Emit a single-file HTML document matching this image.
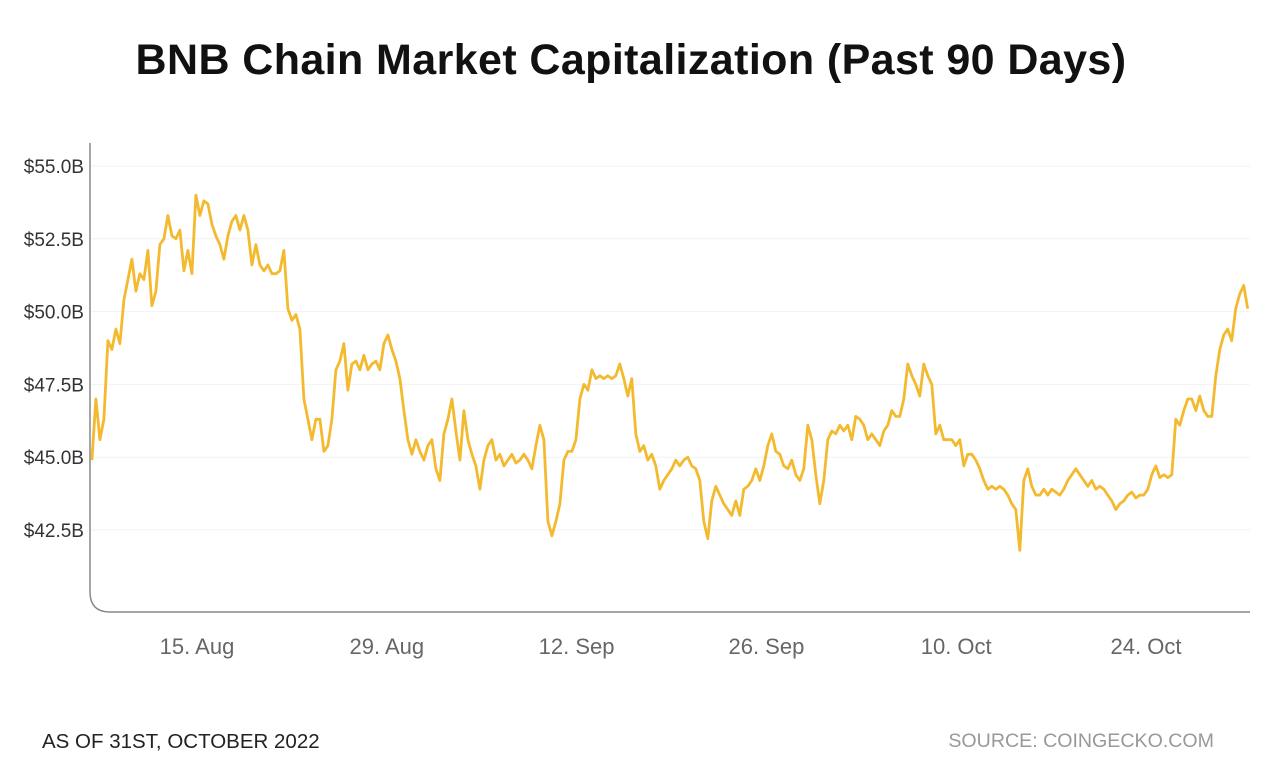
<!DOCTYPE html>
<html><head><meta charset="utf-8">
<style>
html,body{margin:0;padding:0;background:#fff;width:1282px;height:770px;overflow:hidden;font-family:"Liberation Sans",sans-serif;}
#title{position:absolute;left:0;width:1262px;top:36px;text-align:center;font-weight:bold;font-size:43px;color:#111;letter-spacing:0.4px;}
#foot-left{position:absolute;left:42px;top:730px;font-size:20.5px;color:#222;}
#foot-right{position:absolute;right:68px;top:730px;font-size:19.6px;color:#999;}
svg{position:absolute;left:0;top:0;}
</style></head>
<body>
<div id="title">BNB Chain Market Capitalization (Past 90 Days)</div>
<svg id="chart" width="1282" height="770"></svg>
<div id="foot-left">AS OF 31ST, OCTOBER 2022</div>
<div id="foot-right">SOURCE: COINGECKO.COM</div>
<script>
const yTicks = [42.5, 45.0, 47.5, 50.0, 52.5, 55.0];
const xTickDates = ["2022-08-15","2022-08-29","2022-09-12","2022-09-26","2022-10-10","2022-10-24"];
const xTickLabels = ["15. Aug","29. Aug","12. Sep","26. Sep","10. Oct","24. Oct"];
const seriesStart = "2022-08-07T06:00:00Z";
const seriesStepHours = 7.08;
const marketCapB = [44.9,47.0,45.6,46.3,49.0,48.7,49.4,48.9,50.4,51.1,51.8,50.7,51.3,51.1,52.1,50.2,50.7,52.3,52.5,53.3,52.6,52.5,52.8,51.4,52.1,51.3,54.0,53.3,53.8,53.7,53.0,52.6,52.3,51.8,52.6,53.1,53.3,52.8,53.3,52.8,51.6,52.3,51.6,51.4,51.6,51.3,51.3,51.4,52.1,50.1,49.7,49.9,49.4,47.0,46.3,45.6,46.3,46.3,45.2,45.4,46.3,48.0,48.3,48.9,47.3,48.2,48.3,48.0,48.5,48.0,48.2,48.3,48.0,48.9,49.2,48.7,48.3,47.7,46.6,45.6,45.1,45.6,45.2,44.9,45.4,45.6,44.6,44.2,45.8,46.3,47.0,45.9,44.9,46.6,45.6,45.1,44.7,43.9,44.9,45.4,45.6,44.9,45.1,44.7,44.9,45.1,44.8,44.9,45.1,44.9,44.6,45.4,46.1,45.6,42.8,42.3,42.8,43.4,44.9,45.2,45.2,45.6,47.0,47.5,47.3,48.0,47.7,47.8,47.7,47.8,47.7,47.8,48.2,47.7,47.1,47.7,45.8,45.2,45.4,44.9,45.1,44.7,43.9,44.2,44.4,44.6,44.9,44.7,44.9,45.0,44.7,44.6,44.2,42.8,42.2,43.5,44.0,43.7,43.4,43.2,43.0,43.5,43.0,43.9,44.0,44.2,44.6,44.2,44.7,45.4,45.8,45.2,45.1,44.7,44.6,44.9,44.4,44.2,44.6,46.1,45.6,44.4,43.4,44.2,45.6,45.9,45.8,46.1,45.9,46.1,45.6,46.4,46.3,46.1,45.6,45.8,45.6,45.4,45.9,46.1,46.6,46.4,46.4,47.0,48.2,47.8,47.5,47.1,48.2,47.8,47.5,45.8,46.1,45.6,45.6,45.6,45.4,45.6,44.7,45.1,45.1,44.9,44.6,44.2,43.9,44.0,43.9,44.0,43.9,43.7,43.4,43.2,41.8,44.2,44.6,44.0,43.7,43.7,43.9,43.7,43.9,43.8,43.7,43.9,44.2,44.4,44.6,44.4,44.2,44.0,44.2,43.9,44.0,43.9,43.7,43.5,43.2,43.4,43.5,43.7,43.8,43.6,43.7,43.7,43.9,44.4,44.7,44.3,44.4,44.3,44.4,46.3,46.1,46.6,47.0,47.0,46.6,47.1,46.6,46.4,46.4,47.8,48.7,49.2,49.4,49.0,50.1,50.6,50.9,50.1];

const NS = "http://www.w3.org/2000/svg";
const svg = document.getElementById('chart');
const DAY = 86400000;
const plotL = 90, plotR = 1250, plotT = 143, plotB = 612;
const refT = Date.parse("2022-08-15T00:00:00Z");
const pxPerDay = (1146 - 197) / 70;
function xScale(t){ return 197 + (t - refT) / DAY * pxPerDay; }
function yScale(v){ return 166 + (55 - v) * (530 - 166) / 12.5; }
function mk(tag, attrs){ const e = document.createElementNS(NS, tag); for (const k in attrs) e.setAttribute(k, attrs[k]); svg.appendChild(e); return e; }

yTicks.forEach(v => {
  const y = yScale(v);
  const g = mk('line', {x1: plotL, x2: plotR, y1: y, y2: y, stroke: '#f2f2f2', 'stroke-width': 1});
  
  
  const t = mk('text', {x: 84, y: y + 7, 'text-anchor': 'end', 'font-size': 19, fill: '#333', 'font-family': 'Liberation Sans, sans-serif'});
  t.textContent = '$' + v.toFixed(1) + 'B';
  
  
});

const axis = mk('path', {d: `M${plotL} ${plotT} L${plotL} ${plotB-20} Q${plotL} ${plotB} ${plotL+20} ${plotB} L${plotR} ${plotB}`, fill: 'none', stroke: '#888', 'stroke-width': 1.5});



xTickDates.forEach((d, i) => {
  const x = xScale(Date.parse(d + "T00:00:00Z"));
  const t = mk('text', {x: x, y: 654, 'text-anchor': 'middle', 'font-size': 22, fill: '#666', 'font-family': 'Liberation Sans, sans-serif'});
  t.textContent = xTickLabels[i];
  
  
});

const t0 = Date.parse(seriesStart);
let d = '';
marketCapB.forEach((v, i) => {
  const x = xScale(t0 + i * seriesStepHours * 3600000);
  d += (i ? 'L' : 'M') + x.toFixed(1) + ' ' + yScale(v).toFixed(1) + ' ';
});
const line = mk('path', {d: d, fill: 'none', stroke: '#F3BA2F', 'stroke-width': 2.8, 'stroke-linejoin': 'round'});


</script>
</body></html>
